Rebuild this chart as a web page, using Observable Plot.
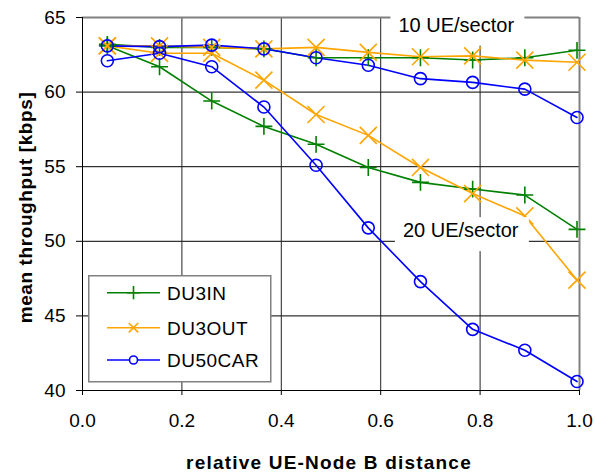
<!DOCTYPE html>
<html><head><meta charset="utf-8">
<script src="https://cdn.jsdelivr.net/npm/d3@7"></script>
<script src="https://cdn.jsdelivr.net/npm/@observablehq/plot@0.6"></script>
<style>
body{margin:0;background:#fff;}
#chart{position:relative;width:595px;height:475px;font-family:"Liberation Sans",Arial,sans-serif;}
#legend{position:absolute;left:88px;top:275px;}
</style></head><body><div id="chart"></div>
<script>
// ---- data ----
const distance = [0.05, 0.155, 0.26, 0.365, 0.47, 0.575, 0.68, 0.785, 0.89, 0.995];
const du3in10   = [63.2, 63.0, 63.0, 62.9, 62.3, 62.3, 62.3, 62.15, 62.3, 62.8];
const du3in20   = [63.1, 61.7, 59.4, 57.7, 56.5, 54.95, 53.95, 53.5, 53.1, 50.8];
const du3out10  = [63.1, 63.1, 63.0, 62.9, 63.0, 62.66, 62.37, 62.43, 62.14, 62.0];
const du3out20  = [63.1, 62.6, 62.6, 60.8, 58.5, 57.1, 54.95, 53.2, 51.7, 47.4];
const du50car10 = [63.1, 63.05, 63.15, 62.9, 62.3, 61.8, 60.9, 60.65, 60.2, 58.3];
const du50car20 = [62.1, 62.6, 61.7, 59.0, 55.1, 50.9, 47.3, 44.1, 42.7, 40.6];

const seriesNames = ["DU3IN", "DU3OUT", "DU50CAR"];
const seriesColors = ["#008000", "#FFA500", "#0000FF"];
const seriesSymbols = ["plus", "times", "circle"];
const loadLabels = ["10 UE/sector", "20 UE/sector"];
const xTicks = [0, 0.2, 0.4, 0.6, 0.8, 1.0];
const yTicks = [40, 45, 50, 55, 60, 65];
const xGrid = [0.2, 0.4, 0.6, 0.8];
const yGrid = [45, 50, 55, 60];
const annotationLabels = ["10 UE/sector", "20 UE/sector"];
const annotationX = [0.752, 0.761];
const annotationY = [64.48, 50.71];
const xTitle = "relative UE-Node B distance";
const yTitle = "mean throughput [kbps]";

// ---- build tables ----
const seriesTable = [
  {series: "DU3IN", load: loadLabels[0], values: du3in10},
  {series: "DU3IN", load: loadLabels[1], values: du3in20},
  {series: "DU3OUT", load: loadLabels[0], values: du3out10},
  {series: "DU3OUT", load: loadLabels[1], values: du3out20},
  {series: "DU50CAR", load: loadLabels[0], values: du50car10},
  {series: "DU50CAR", load: loadLabels[1], values: du50car20}
];
const rows = seriesTable.flatMap(s => distance.map((d, i) => ({
  series: s.series, key: s.series + "|" + s.load, x: d, y: s.values[i]
})));
const annotations = annotationLabels.map((label, i) => ({label, x: annotationX[i], y: annotationY[i]}));
const markerR = {DU3IN: 5.5, DU3OUT: 7.8, DU50CAR: 6};

const plot = Plot.plot({
  width: 595, height: 475,
  marginLeft: 82, marginRight: 16, marginTop: 17, marginBottom: 85,
  style: {fontFamily: '"Liberation Sans", Arial, sans-serif', fontSize: "19px", color: "#000", background: "#fff", overflow: "visible"},
  x: {domain: [0, 1], ticks: xTicks, tickFormat: d3.format(".1f"), tickSize: 5, tickPadding: 18, label: null},
  y: {domain: [40, 65], ticks: yTicks, tickSize: 6, tickPadding: 11, label: null},
  color: {domain: seriesNames, range: seriesColors},
  symbol: {domain: seriesNames, range: seriesSymbols},
  marks: [
    Plot.ruleY(yGrid, {stroke: "#000", strokeWidth: 1}),
    Plot.ruleX(xGrid, {stroke: "#222", strokeWidth: 1}),
    Plot.ruleY([65], {stroke: "#808080", strokeWidth: 2}),
    Plot.ruleX([1], {stroke: "#808080", strokeWidth: 2}),
    Plot.ruleX([0], {stroke: "#000", strokeWidth: 1}),
    Plot.ruleY([40], {stroke: "#000", strokeWidth: 1}),
    Plot.line(rows, {x: "x", y: "y", z: "key", stroke: "series", strokeWidth: 1.6}),
    ...seriesNames.map(s => Plot.dot(rows.filter(d => d.series === s), {
      x: "x", y: "y", stroke: "series", symbol: "series", r: markerR[s], strokeWidth: 1.6
    })),
    Plot.text(annotations, {x: "x", y: "y", text: "label", fontSize: 20, fill: "#000", textAnchor: "middle", lineAnchor: "middle"})
  ]
});

const chart = document.getElementById("chart");
chart.appendChild(plot);
const svg = d3.select(plot.tagName.toLowerCase() === "svg" ? plot : plot.querySelector("svg"));

// white boxes behind annotation texts
svg.selectAll('g[aria-label="text"] text').each(function() {
  const b = this.getBBox();
  const pad = {l: 8, r: 10, t: 2, b: 10};
  const rect = document.createElementNS("http://www.w3.org/2000/svg", "rect");
  rect.setAttribute("x", b.x - pad.l);
  rect.setAttribute("y", b.y - pad.t);
  rect.setAttribute("width", b.width + pad.l + pad.r);
  rect.setAttribute("height", b.height + pad.t + pad.b);
  rect.setAttribute("fill", "#fff");
  const tr = this.getAttribute("transform");
  if (tr) rect.setAttribute("transform", tr);
  this.parentNode.insertBefore(rect, this);
});

// axis titles
svg.append("text")
  .attr("x", 329).attr("y", 469)
  .attr("text-anchor", "middle")
  .style("font-weight", "bold").style("font-size", "19px").style("letter-spacing", "1.2px")
  .attr("fill", "#000")
  .text(xTitle);
svg.append("text")
  .attr("transform", "translate(31.5,207.5) rotate(-90)")
  .attr("text-anchor", "middle")
  .style("font-weight", "bold").style("font-size", "19px").style("letter-spacing", "0.6px")
  .attr("fill", "#000")
  .text(yTitle);

// legend
const legendSizes = {DU3IN: 60, DU3OUT: 60, DU50CAR: 50};
const lg = d3.select(chart).append("svg").attr("id", "legend")
  .attr("width", 184).attr("height", 108);
lg.append("rect").attr("x", 0.75).attr("y", 0.75).attr("width", 182).attr("height", 106)
  .attr("fill", "#fff").attr("stroke", "#808080").attr("stroke-width", 1.5);
const rowY = [17.7, 52.7, 85];
const symbolMap = {plus: d3.symbolPlus, times: d3.symbolTimes, circle: d3.symbolCircle};
seriesNames.forEach((s, i) => {
  const g = lg.append("g").attr("transform", `translate(0,${rowY[i]})`);
  g.append("line").attr("x1", 19).attr("x2", 72).attr("y1", 0).attr("y2", 0)
    .attr("stroke", seriesColors[i]).attr("stroke-width", 1.6);
  g.append("path").attr("transform", "translate(45.5,0)")
    .attr("d", d3.symbol(symbolMap[seriesSymbols[i]], legendSizes[s])())
    .attr("fill", seriesSymbols[i] === "circle" ? "#fff" : "none")
    .attr("stroke", seriesColors[i]).attr("stroke-width", 1.6);
  g.append("text").attr("x", 79).attr("y", 0).attr("dy", "0.36em")
    .style("font-size", "19px").style("letter-spacing", "0.5px").attr("fill", "#000").text(s);
});
</script></body></html>
